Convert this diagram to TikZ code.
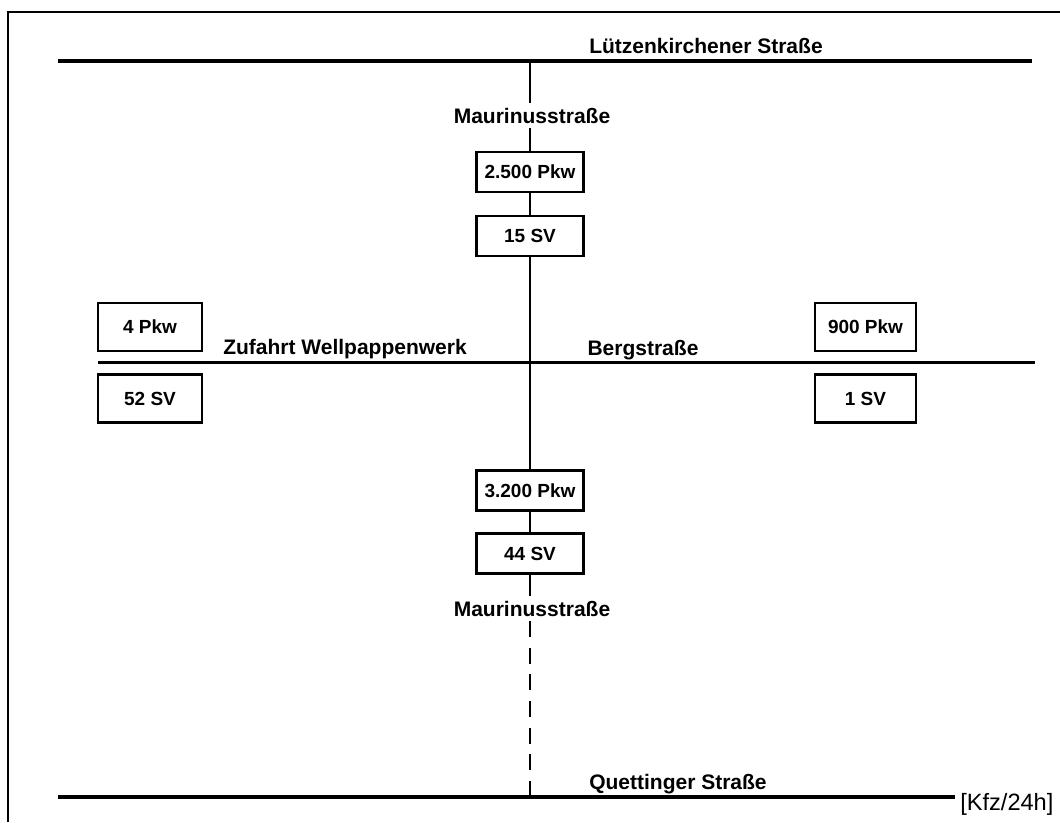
\documentclass[tikz,border=0pt]{standalone}
\usepackage{fontspec}
\setmainfont{Liberation Sans}
\begin{document}
\begin{tikzpicture}[x=0.75pt,y=-0.75pt,
  road/.style={line width=2.3pt},
  vline/.style={line width=2.2pt},
  frameline/.style={line width=1.5pt},
  lbl/.style={font=\fontsize{15.75}{18}\selectfont\bfseries, inner sep=3.5pt, anchor=base},
  cnt/.style={draw, line width=2.1pt, font=\fontsize{14.25}{16}\selectfont\bfseries, inner sep=0pt, minimum width=80.25pt, minimum height=30pt},
  sidebox/.style={cnt, minimum height=36pt},
]
\useasboundingbox (0,0) rectangle (1060,822);
% frame
\coordinate (fbl) at (8,822);
\coordinate (ftl) at (8,12);
\coordinate (ftr) at (1060,12);
\draw[frameline] (fbl) -- (ftl) -- (ftr);

% roads
\coordinate (tl) at (58,61);
\coordinate (tr) at (1032,61);
\coordinate (ttop) at (530,61);
\draw[road] (tl) -- (tr);
\coordinate (ml) at (98,362.5);
\coordinate (mr) at (1035,362.5);
\draw[road] (ml) -- (mr);
\coordinate (bl) at (58,797);
\coordinate (bot) at (530,797);

% labels
\node[lbl] (lz) at (706,53) {Lützenkirchener Straße};
\node[lbl] (m1) at (532,123) {Maurinusstraße};
\node[lbl] (zw) at (345,354) {Zufahrt Wellpappenwerk};
\node[lbl] (bg) at (643,355) {Bergstraße};
\node[lbl] (m2) at (532,616) {Maurinusstraße};
\node[lbl] (qs) at (678,789) {Quettinger Straße};
\node[font=\fontsize{17.7}{20}\selectfont, anchor=base west, inner sep=3.75pt] (kfz) at (955,810) {[Kfz/24h]};
\draw[road] (bl) -- (kfz.west |- bl);

% count boxes
\node[cnt] (b1) at (530,172) {2.500 Pkw};
\node[cnt] (b2) at (530,236) {15 SV};
\node[cnt] (b3) at (530,490.5) {3.200 Pkw};
\node[cnt] (b4) at (530,553.5) {44 SV};
\node[sidebox, minimum width=78pt] (l1) at (150,327) {4 Pkw};
\node[sidebox, minimum width=78pt] (l2) at (150,398.5) {52 SV};
\node[sidebox, minimum width=75.75pt] (r1) at (865.5,327) {900 Pkw};
\node[sidebox, minimum width=75.75pt] (r2) at (865.5,398.5) {1 SV};

% Maurinusstrasse
\draw[vline] (ttop) -- (ttop |- m1.north);
\draw[vline] (m1.south -| ttop) -- (b1.north);
\draw[vline] (b1.south) -- (b2.north);
\draw[vline] (b2.south) -- (b3.north);
\draw[vline] (b3.south) -- (b4.north);
\draw[vline] (b4.south) -- (m2.north -| b4);
\draw[vline, dash pattern=on 12pt off 8pt] (m2.south -| b4) -- (bot);
\end{tikzpicture}
\end{document}
